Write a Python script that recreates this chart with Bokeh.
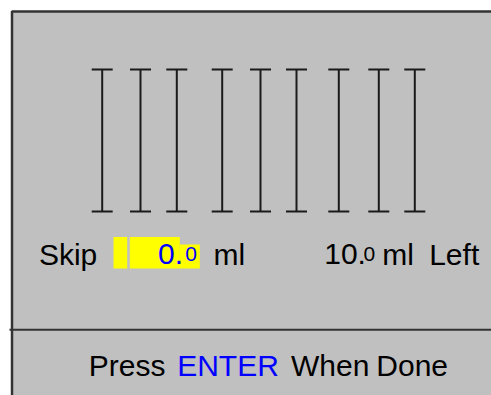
from bokeh.plotting import figure
from bokeh.models import Range1d, ColumnDataSource
from bokeh.core.properties import value
from bokeh.embed import file_html
from bokeh.resources import INLINE

# --- data (page pixel units) ---
graduation_x = [101.7, 140.0, 176.3, 221.7, 260.0, 296.0, 338.3, 378.3, 414.3]
graduation_top = [69] * 9
graduation_bottom = [211] * 9

skip_label = "Skip"
skip_value_int = "0."
skip_value_dec = "0"
unit_label = "ml"
left_value_int = "10."
left_value_dec = "0"
left_unit = "ml"
left_word = "Left"
footer_words = ["Press", "ENTER", "When", "Done"]
footer_colors = ["black", "#0000FF", "black", "black"]

FONT = value("Liberation Sans")
GRAY = "#C0C0C0"
DARK = "#333333"

W, H = 491, 395
p = figure(width=W, height=H, output_backend="svg", toolbar_location=None,
           x_range=Range1d(0, W), y_range=Range1d(H, 0), min_border=0)
p.axis.visible = False
p.grid.visible = False
p.outline_line_color = None
p.background_fill_color = "white"
p.border_fill_color = "white"

# panel
p.quad(left=[11.5], right=[560], top=[11], bottom=[460], fill_color=GRAY,
       line_color=DARK, line_width=2.5)
# separator
p.segment(x0=[9], x1=[560], y0=[329.3], y1=[329.3], line_color=DARK, line_width=2)

# graduations (I-bars)
src = ColumnDataSource(dict(x=graduation_x, top=graduation_top, bottom=graduation_bottom,
                            xl=[v - 10.5 for v in graduation_x],
                            xr=[v + 10.5 for v in graduation_x]))
p.segment(x0="x", x1="x", y0="top", y1="bottom", source=src, line_color="#1a1a1a", line_width=2)
p.segment(x0="xl", x1="xr", y0="top", y1="top", source=src, line_color="#1a1a1a", line_width=2)
p.segment(x0="xl", x1="xr", y0="bottom", y1="bottom", source=src, line_color="#1a1a1a", line_width=2)

# yellow value box
p.quad(left=[113, 129.3], right=[126.7, 179.3], top=[236.5, 236.5], bottom=[268, 268],
       fill_color="#FFFF00", line_color=None)
p.quad(left=[179.3], right=[199.3], top=[244], bottom=[268],
       fill_color="#FFFF00", line_color=None)

BIG = "30px"
SMALL = "21px"
base_y = 253.5

def word(x, y, t, size=BIG, color="black", align="center"):
    p.text(x=[x], y=[y], text=[t], text_font=FONT, text_font_size=size,
           text_color=color, text_baseline="alphabetic", text_align=align)

word(67.6, base_y, skip_label)
word(182.5, base_y, skip_value_int, color="#0000FF", align="right")
word(190.5, base_y, skip_value_dec, size=SMALL, color="#0000FF")
word(228.9, base_y, unit_label)
word(344.6, base_y, left_value_int)
word(368.9, base_y, left_value_dec, size=SMALL)
word(397.5, base_y, left_unit)
word(453.7, base_y, left_word)

foot_y = 364.5
foot_centers = [126.7, 227.5, 329.7, 411.7]
for cx, t, c in zip(foot_centers, footer_words, footer_colors):
    word(cx, foot_y, t, color=c)

open("out.html", "w").write(file_html(p, INLINE))
